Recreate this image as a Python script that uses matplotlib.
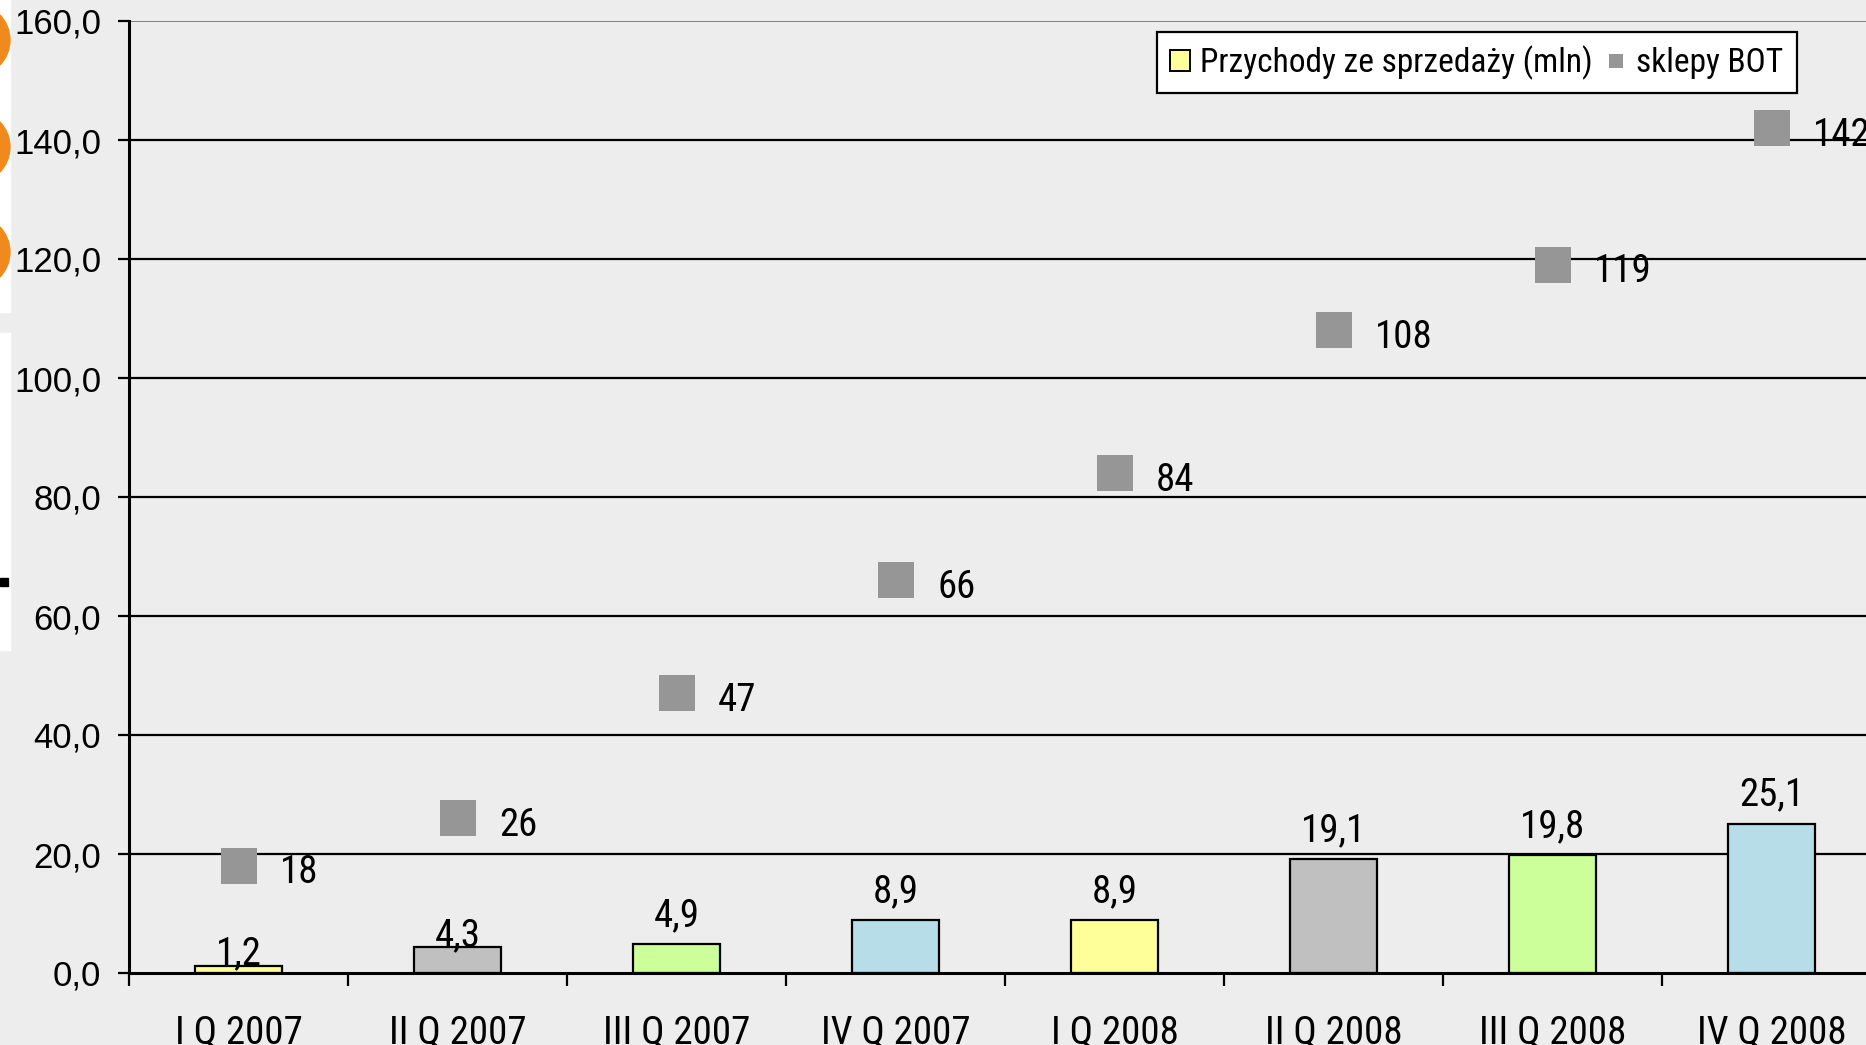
import matplotlib
matplotlib.use("Agg")
import matplotlib.pyplot as plt
import matplotlib.transforms as mtransforms
from matplotlib.patches import Patch, Rectangle, Circle
from matplotlib.lines import Line2D

# ---- data ----
quarters = ["I Q 2007", "II Q 2007", "III Q 2007", "IV Q 2007",
            "I Q 2008", "II Q 2008", "III Q 2008", "IV Q 2008"]
revenue = [1.2, 4.3, 4.9, 8.9, 8.9, 19.1, 19.8, 25.1]
shops = [18, 26, 47, 66, 84, 108, 119, 142]
bar_colors = ["#FFFF99", "#C0C0C0", "#CCFF99", "#B7DDE8",
              "#FFFF99", "#C0C0C0", "#CCFF99", "#B7DDE8"]
y_ticks = [0, 20, 40, 60, 80, 100, 120, 140, 160]

NARROW = ["Roboto Condensed", "Archivo Narrow", "PT Sans Narrow",
          "IBM Plex Sans Condensed", "Liberation Sans"]
REG = ["Liberation Sans", "DejaVu Sans"]
BG = "#ededed"

W, H, DPI = 1866, 1045, 100
fig = plt.figure(figsize=(W / DPI, H / DPI), dpi=DPI, facecolor=BG)

# slide remnants along the left edge
fig.patches.append(Rectangle((0, 1 - 312 / H), 10 / W, 312 / H,
                             transform=fig.transFigure, color="white", zorder=0))
fig.patches.append(Rectangle((0, 1 - 650 / H), 10 / W, (650 - 333) / H,
                             transform=fig.transFigure, color="white", zorder=0))
for cy in (40, 147, 252):
    fig.patches.append(Circle((-26, H - cy), 36, transform=None,
                              color="#F08A1C", zorder=1))
fig.patches.append(Rectangle((0, 1 - 586 / H), 8 / W, 8 / H,
                             transform=fig.transFigure, color="black", zorder=1))

ax = fig.add_axes([129 / W, (H - 973) / H, 1752 / W, 952 / H])
ax.set_facecolor("none")

x = list(range(len(quarters)))
ax.bar(x, revenue, width=0.4, color=bar_colors, edgecolor="black",
       linewidth=1.6, zorder=3)
ax.plot(x, shops, linestyle="none", marker="s", markersize=25.5,
        color="#969696", markeredgewidth=0, zorder=4)

# value labels (the two smallest bars carry their label right on the bar top)
bar_label_gap = [0, 0, 12, 12, 12, 12, 12, 12]
for xi, v, gap in zip(x, revenue, bar_label_gap):
    ax.annotate(f"{v:.1f}".replace(".", ","), (xi, v), xytext=(0, gap + 1),
                textcoords="offset points", ha="center", va="baseline",
                fontsize=28, family=NARROW, zorder=5)
for xi, v in zip(x, shops):
    ax.annotate(f"{v}", (xi, v), xytext=(30, -5),
                textcoords="offset points", ha="left", va="center",
                fontsize=28, family=NARROW, zorder=5)

# axes
ax.set_xlim(-0.5, len(quarters) - 0.5)
ax.set_ylim(0, 160)
ax.set_yticks(y_ticks)
ax.set_yticklabels([f"{t:.1f}".replace(".", ",") for t in y_ticks],
                   fontsize=25, family=REG)
shift = mtransforms.ScaledTranslation(0, -3 / 72, fig.dpi_scale_trans)
for lbl in ax.get_yticklabels():
    lbl.set_transform(lbl.get_transform() + shift)
for t in y_ticks[1:-1]:
    ax.axhline(t, color="black", linewidth=1.6, zorder=2)
ax.axhline(160, color="#808080", linewidth=1.4, zorder=2)

ax.set_xticks(x)
ax.set_xticklabels(quarters, fontsize=28, family=NARROW)
ax.set_xticks([i + 0.5 for i in x[:-1]] + [-0.5], minor=True)
ax.tick_params(axis="x", which="major", length=0, pad=30)
ax.tick_params(axis="x", which="minor", length=9, width=1.6, direction="out")
ax.tick_params(axis="y", length=8, width=1.6, direction="out", pad=12)

for s in ("top", "right"):
    ax.spines[s].set_visible(False)
for s in ("left", "bottom"):
    ax.spines[s].set_linewidth(2.2)
    ax.spines[s].set_zorder(6)

handles = [Patch(facecolor="#FFFF99", edgecolor="black", linewidth=1.4),
           Line2D([], [], linestyle="none", marker="s", markersize=10,
                  color="#969696", markeredgewidth=0)]
leg = fig.legend(handles, ["Przychody ze sprzedaży (mln)", "sklepy BOT"],
                 loc="upper left", bbox_to_anchor=(1157 / W, 1 - 32 / H),
                 ncol=2, frameon=True, fancybox=False, edgecolor="black",
                 facecolor="white", framealpha=1,
                 prop={"family": NARROW, "size": 24},
                 handlelength=0.6, handleheight=0.6, handletextpad=0.3,
                 columnspacing=0.4, borderpad=0.4, borderaxespad=0)
leg.get_frame().set_linewidth(1.6)

fig.savefig("out.png", dpi=DPI, facecolor=BG)
